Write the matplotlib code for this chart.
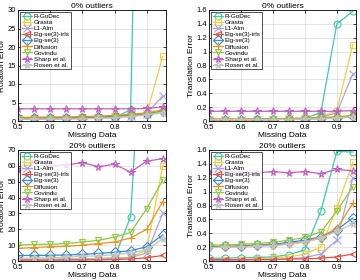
import matplotlib
matplotlib.use("Agg")
import matplotlib.pyplot as plt
import numpy as np

plt.rcParams["font.family"] = ["Liberation Sans", "DejaVu Sans"]

missing = [0.5, 0.55, 0.6, 0.65, 0.7, 0.75, 0.8, 0.85, 0.9, 0.95]
methods = ["R-GoDec", "Grasta", "L1-Alm", "Eig-se(3)-irls", "Eig-se(3)",
           "Diffusion", "Govindu", "Sharp et al.", "Rosen et al."]
colors = ["#40c8a8", "#f0d040", "#a8a4e0", "#e8503c", "#3c8ccc",
          "#f09020", "#90c840", "#c060c0", "#c4c4c4"]
markers = ["o", "s", "x", "<", "D", "+", "v", "*", "*"]

# 0% outliers, rotation error
rot0 = [
    [0.5, 0.5, 0.5, 0.6, 0.7, 0.8, 1.0, 3.0, 200, 200],
    [0.8, 0.8, 0.9, 0.9, 1.0, 1.1, 1.3, 1.6, 2.0, 17.5],
    [0.6, 0.6, 0.7, 0.7, 0.8, 0.9, 1.1, 1.4, 2.0, 6.8],
    [0.8, 0.8, 0.9, 0.9, 1.0, 1.1, 1.3, 1.6, 2.0, 2.6],
    [0.7, 0.7, 0.8, 0.8, 0.9, 1.0, 1.2, 1.5, 1.9, 2.6],
    [1.0, 1.0, 1.1, 1.1, 1.2, 1.3, 1.5, 1.8, 2.2, 3.0],
    [0.5, 0.5, 0.6, 0.6, 0.7, 0.8, 1.0, 1.3, 1.8, 2.5],
    [3.3, 3.3, 3.3, 3.3, 3.3, 3.3, 3.3, 3.3, 3.4, 3.8],
    [0.5, 0.5, 0.5, 0.6, 0.6, 0.7, 0.9, 1.2, 1.6, 2.2],
]
# 0% outliers, translation error
tra0 = [
    [0.02, 0.02, 0.02, 0.03, 0.03, 0.03, 0.04, 0.12, 1.40, 1.58],
    [0.02, 0.02, 0.02, 0.02, 0.03, 0.03, 0.04, 0.06, 0.15, 1.10],
    [0.02, 0.02, 0.02, 0.02, 0.02, 0.03, 0.03, 0.05, 0.12, 0.68],
    [0.02, 0.02, 0.02, 0.02, 0.02, 0.03, 0.03, 0.04, 0.05, 0.07],
    [0.02, 0.02, 0.02, 0.02, 0.02, 0.03, 0.03, 0.04, 0.05, 0.07],
    [0.03, 0.03, 0.03, 0.03, 0.03, 0.04, 0.04, 0.05, 0.06, 0.08],
    [0.02, 0.02, 0.02, 0.02, 0.03, 0.03, 0.03, 0.04, 0.05, 0.08],
    [0.14, 0.14, 0.14, 0.14, 0.14, 0.14, 0.14, 0.14, 0.14, 0.15],
    [0.02, 0.02, 0.02, 0.02, 0.02, 0.02, 0.03, 0.03, 0.04, 0.06],
]
# 20% outliers, rotation error
rot20 = [
    [1.0, 1.0, 1.0, 1.2, 1.3, 1.5, 2.0, 28.0, 200, 200],
    [1.0, 1.0, 1.0, 1.1, 1.2, 1.4, 1.8, 2.5, 7.0, 60.0],
    [0.8, 0.8, 0.9, 1.0, 1.1, 1.2, 1.5, 2.2, 5.0, 30.0],
    [0.5, 0.5, 0.5, 0.6, 0.6, 0.7, 0.9, 1.3, 2.0, 3.5],
    [3.5, 3.5, 3.6, 3.8, 4.2, 4.8, 5.5, 6.5, 9.0, 16.5],
    [8.0, 8.5, 9.0, 9.2, 10.0, 11.0, 12.0, 14.5, 20.0, 37.5],
    [10.0, 10.5, 10.5, 11.0, 12.0, 13.0, 15.0, 18.0, 33.0, 51.0],
    [57.5, 63.0, 60.0, 60.5, 62.0, 59.5, 61.0, 56.0, 63.0, 64.5],
    [1.5, 2.0, 2.0, 2.5, 3.0, 3.2, 4.0, 5.0, 7.0, 14.0],
]
# 20% outliers, translation error
tra20 = [
    [0.04, 0.04, 0.05, 0.05, 0.06, 0.09, 0.16, 0.72, 1.58, 1.57],
    [0.02, 0.02, 0.02, 0.03, 0.04, 0.06, 0.10, 0.20, 0.77, 1.42],
    [0.01, 0.01, 0.01, 0.02, 0.02, 0.03, 0.05, 0.10, 0.30, 1.20],
    [0.02, 0.02, 0.02, 0.02, 0.02, 0.03, 0.03, 0.04, 0.06, 0.10],
    [0.21, 0.21, 0.22, 0.23, 0.24, 0.27, 0.30, 0.35, 0.45, 0.62],
    [0.20, 0.20, 0.21, 0.22, 0.23, 0.25, 0.28, 0.35, 0.47, 0.83],
    [0.23, 0.23, 0.24, 0.25, 0.27, 0.30, 0.34, 0.42, 0.72, 1.07],
    [1.28, 1.31, 1.27, 1.27, 1.29, 1.27, 1.29, 1.26, 1.32, 1.30],
    [0.19, 0.20, 0.20, 0.21, 0.22, 0.24, 0.27, 0.33, 0.43, 0.53],
]

trans_labels = ["0", "0.2", "0.4", "0.6", "0.8", "1", "1.2", "1.4", "1.6"]

# data, title, ylabel, ymax, yticks, pixel box (left, right, top, bottom)
panels = [
    (rot0, "0% outliers", "Rotation Error", 30, np.arange(0, 31, 5), (18, 166, 10, 121)),
    (tra0, "0% outliers", "Translation Error", 1.6, np.arange(0, 1.61, 0.2), (209, 356, 10, 121)),
    (rot20, "20% outliers", "Rotation Error", 70, np.arange(0, 71, 10), (18, 166, 150, 261)),
    (tra20, "20% outliers", "Translation Error", 1.6, np.arange(0, 1.61, 0.2), (209, 356, 150, 261)),
]

W, H = 360, 280
fig = plt.figure(figsize=(3.6, 2.8), dpi=100)

for data, title, ylabel, ymax, yticks, box in panels:
    x0, x1, y0, y1 = box
    ax = fig.add_axes([x0 / W, 1 - y1 / H, (x1 - x0) / W, (y1 - y0) / H])
    for vals, name, c, m in zip(data, methods, colors, markers):
        ms = 5.5 if m in ("*", "+", "x") else 5
        ax.plot(missing, vals, color=c, marker=m, markersize=ms, lw=0.9,
                markerfacecolor="none", markeredgewidth=0.8, label=name)
    ax.set_xlim(0.5, 0.96)
    ax.set_ylim(0, ymax)
    ax.set_xticks([0.5, 0.6, 0.7, 0.8, 0.9])
    ax.set_yticks(yticks)
    if ymax < 2:
        ax.set_yticklabels(trans_labels)
    ax.grid(True, color="#e0e0e0", lw=0.6)
    ax.tick_params(direction="in", length=2, width=0.5, labelsize=5.5, pad=1.5,
                   top=True, right=True)
    ax.tick_params(axis="x", pad=2.5)
    for s in ax.spines.values():
        s.set_linewidth(0.6)
    ax.set_title(title, fontsize=6, pad=1.5)
    ax.set_xlabel("Missing Data", fontsize=6, labelpad=0.5)
    ax.set_ylabel(ylabel, fontsize=6, labelpad=1)
    leg = ax.legend(loc="upper left", fontsize=4.6, frameon=True, fancybox=False,
                    borderpad=0.25, labelspacing=0.1, handlelength=1.6,
                    handletextpad=0.3, borderaxespad=0.3)
    leg.get_frame().set_edgecolor("black")
    leg.get_frame().set_linewidth(0.6)

fig.savefig("out.png", dpi=100)
